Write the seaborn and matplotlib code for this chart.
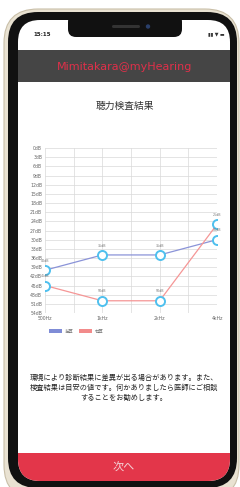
import pandas as pd
import matplotlib.pyplot as plt
import seaborn as sns
from matplotlib.patches import FancyBboxPatch, Rectangle, Patch

# data
freqs = ['500Hz', '1kHz', '2kHz', '4kHz']
left_db = [40, 35, 35, 30]
right_db = [45, 50, 50, 25]
ear_labels = ['左耳', '右耳']
y_ticks = list(range(0, 55, 3))

app_name = 'Mimitakara@myHearing'
title = '聴力検査結果'
note_lines = ['環境により診断結果に差異が出る場合があります。また、',
              '検査結果は目安の値です。何かありましたら医師にご相談',
              'することをお勧めします。']
button_text = '次へ'

df = pd.DataFrame({
    'pos': list(range(len(freqs))) * 2,
    'dB': left_db + right_db,
    'ear': [ear_labels[0]] * len(freqs) + [ear_labels[1]] * len(freqs),
})

sns.set_theme(style='white')
plt.rcParams['font.family'] = ['Noto Sans CJK JP', 'DejaVu Sans']

W, H = 240, 487
fig = plt.figure(figsize=(W / 100, H / 100), dpi=100)
fig.patch.set_facecolor('white')

# phone mockup drawn in pixel coordinates
bg = fig.add_axes([0, 0, 1, 1])
bg.set_xlim(0, W)
bg.set_ylim(H, 0)
bg.axis('off')

bg.add_patch(FancyBboxPatch((4, 9), 235, 490, boxstyle='round,pad=0,rounding_size=34',
                            fc='#e9e2d2', ec='#c9bfa8', lw=0.8))
bg.add_patch(FancyBboxPatch((8, 12), 229, 476, boxstyle='round,pad=0,rounding_size=30',
                            fc='#111111', ec='none'))
screen = FancyBboxPatch((18, 20), 212, 461, boxstyle='round,pad=0,rounding_size=22',
                        fc='white', ec='none')
bg.add_patch(screen)

header = Rectangle((18, 50), 212, 32, fc='#454545', ec='none')
bg.add_patch(header)
button = Rectangle((18, 453), 212, 30, fc='#e3364a', ec='none')
bg.add_patch(button)
button.set_clip_path(screen)

# notch
bg.add_patch(FancyBboxPatch((68, 14), 114, 23, boxstyle='round,pad=0,rounding_size=8',
                            fc='#111111', ec='none'))
bg.add_patch(FancyBboxPatch((112, 25), 28, 3, boxstyle='round,pad=0,rounding_size=1.5',
                            fc='#333333', ec='none'))
bg.add_patch(plt.Circle((148, 26.5), 2.2, fc='#2a3f6a', ec='none'))

bg.text(42, 35, '15:15', fontsize=4, fontweight='bold', ha='center', va='center',
        color='#222222', family='DejaVu Sans')
bg.text(216, 35, '▮▮ ▼ ▬', fontsize=3.5, ha='center', va='center', color='#333333',
        family='DejaVu Sans')

bg.text(125, 67, app_name, fontsize=8, ha='center', va='center', color='#e0304a',
        family='DejaVu Sans')
bg.text(125, 106, title, fontsize=7, ha='center', va='center', color='#333333')

for i, line in enumerate(note_lines):
    bg.text(124, 378 + i * 10, line, fontsize=5.2, ha='center', va='center', color='#222222')

bg.text(124, 468, button_text, fontsize=8, ha='center', va='center', color='#f4d4d8')

# chart
left, right, top, bottom = 45, 217, 148, 313
ax = fig.add_axes([left / W, 1 - bottom / H, (right - left) / W, (bottom - top) / H])
sns.lineplot(data=df, x='pos', y='dB', hue='ear', hue_order=ear_labels,
             palette=['#8a93d8', '#f59696'], marker='o', markersize=6.5,
             markerfacecolor='white', markeredgecolor='#4fc0ee', markeredgewidth=1.4,
             linewidth=0.9, ax=ax, legend=False)

for x, v in zip(range(len(freqs)), left_db):
    ax.text(x, v - 2.4, f'{v}dB', fontsize=2.3, ha='center', va='bottom', color='#777777',
            family='DejaVu Sans')
for x, v in zip(range(len(freqs)), right_db):
    ax.text(x, v - 2.4, f'{v}dB', fontsize=2.3, ha='center', va='bottom', color='#777777',
            family='DejaVu Sans')

ax.set_xlim(0, len(freqs) - 1)
ax.set_ylim(54, 0)
ax.set_yticks(y_ticks)
ax.set_yticklabels([f'{t}dB' for t in y_ticks], family='DejaVu Sans')
ax.set_xticks(range(len(freqs)))
ax.set_xticklabels(freqs, family='DejaVu Sans')
ax.set_xticks([0.5, 1.5, 2.5], minor=True)
ax.grid(True, which='both', color='#d9d9d9', lw=0.5)
ax.tick_params(axis='both', labelsize=3.3, colors='#666666', length=0, pad=2)
ax.set_xlabel('')
ax.set_ylabel('')
for s in ax.spines.values():
    s.set_visible(False)

# legend (Chart.js-style coloured boxes)
handles = [Patch(fc='#7f8cd6', ec='none'), Patch(fc='#f28b8b', ec='none')]
ax.legend(handles, ear_labels, loc='upper left', bbox_to_anchor=(0.0, -0.07), ncol=2,
          frameon=False, fontsize=3.2, handlelength=3, handleheight=0.8,
          columnspacing=1.2, handletextpad=0.6, labelcolor='#777777')

fig.savefig('out.png', dpi=100)
